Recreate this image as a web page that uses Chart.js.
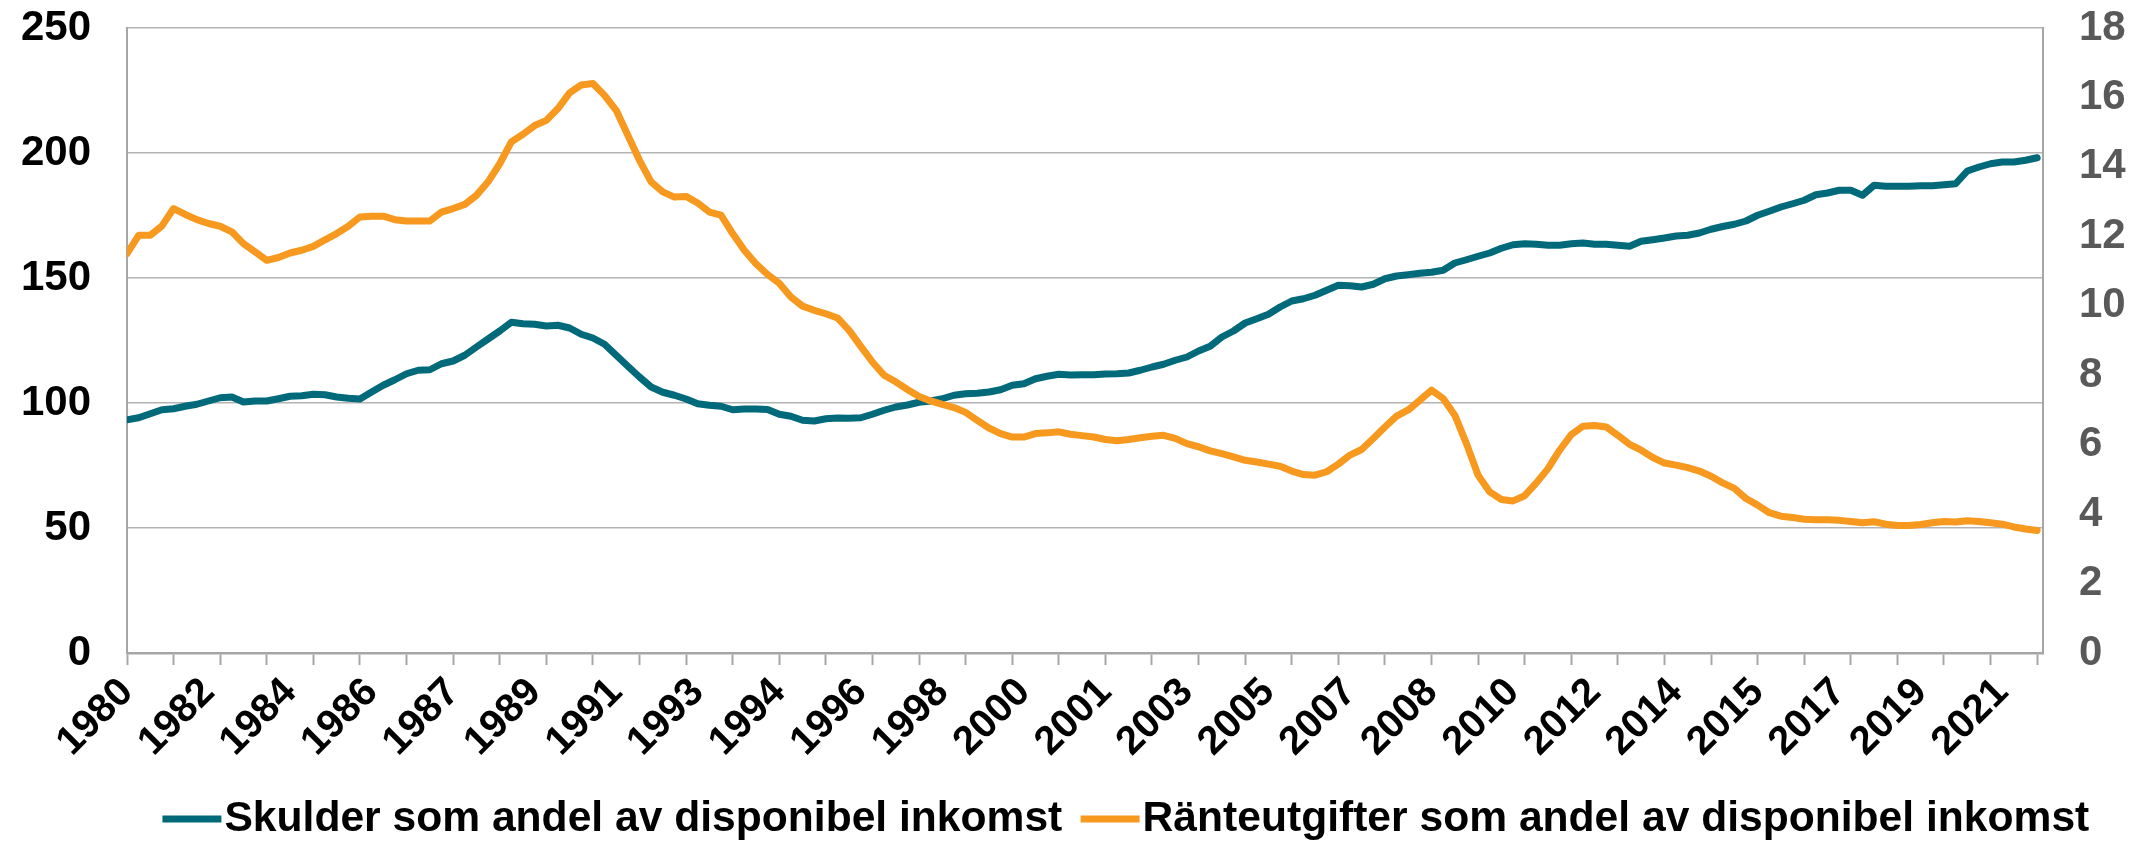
<!DOCTYPE html>
<html>
<head>
<meta charset="utf-8">
<script src="https://cdn.jsdelivr.net/npm/chart.js@4.4.1/dist/chart.umd.min.js"></script>
<style>
html,body{margin:0;padding:0;background:#ffffff;}
canvas{display:block;}
</style>
</head>
<body>
<canvas id="c" width="2150" height="842"></canvas>
<script>
// Quarterly observations, first point = 1980 Q4
const tickLabels = ['1980','1982','1984','1986','1987','1989','1991','1993','1994','1996','1998','2000','2001','2003','2005','2007','2008','2010','2012','2014','2015','2017','2019','2021'];

const skulder = [
93.3,94.1,95.7,97.3,97.7,98.7,99.5,100.8,102.1,102.4,
100.4,100.8,100.8,101.7,102.7,102.9,103.5,103.3,102.4,101.9,
101.6,104.4,107.1,109.3,111.7,113.1,113.3,115.7,116.8,119.1,
122.4,125.6,128.8,132.3,131.7,131.5,130.8,131.1,130.0,127.5,
126.0,123.5,119.1,114.7,110.4,106.4,104.3,103.1,101.6,99.7,
99.1,98.7,97.3,97.6,97.6,97.4,95.5,94.7,93.1,92.8,
93.7,94.0,93.9,94.1,95.5,97.1,98.4,99.2,100.3,100.8,
101.7,103.1,103.7,103.9,104.4,105.3,107.1,107.7,109.7,110.7,
111.5,111.2,111.3,111.3,111.6,111.7,112.0,113.1,114.4,115.5,
117.1,118.4,120.8,122.7,126.4,128.8,132.0,133.7,135.5,138.4,
140.8,141.7,143.1,145.1,147.1,146.9,146.4,147.5,149.7,150.8,
151.3,151.9,152.3,153.1,156.0,157.3,158.7,160.0,161.9,163.3,
163.7,163.5,163.1,163.1,163.7,164.0,163.5,163.5,163.1,162.7,
164.7,165.3,166.0,166.8,167.1,168.0,169.5,170.6,171.5,172.8,
175.1,176.7,178.4,179.7,181.1,183.3,184.0,185.1,185.1,183.1,
187.1,186.7,186.7,186.7,186.9,186.9,187.3,187.7,192.8,194.4,
195.7,196.4,196.4,197.1,198.1
];

const ranteutgifter = [
11.50,12.03,12.03,12.30,12.80,12.63,12.48,12.37,12.29,12.13,
11.79,11.55,11.31,11.39,11.52,11.60,11.71,11.90,12.08,12.29,
12.56,12.58,12.58,12.48,12.44,12.44,12.44,12.70,12.80,12.92,
13.18,13.57,14.09,14.72,14.94,15.19,15.34,15.68,16.13,16.36,
16.40,16.06,15.63,14.91,14.19,13.57,13.28,13.13,13.15,12.96,
12.70,12.61,12.08,11.60,11.21,10.90,10.65,10.25,9.99,9.87,
9.77,9.65,9.29,8.83,8.38,8.00,7.81,7.59,7.39,7.26,
7.16,7.07,6.93,6.70,6.48,6.32,6.22,6.22,6.32,6.34,
6.37,6.30,6.26,6.22,6.15,6.11,6.15,6.20,6.24,6.27,
6.18,6.03,5.94,5.82,5.74,5.65,5.55,5.50,5.44,5.38,
5.24,5.14,5.12,5.22,5.44,5.70,5.86,6.18,6.51,6.82,
7.00,7.28,7.57,7.33,6.85,6.03,5.12,4.64,4.42,4.38,
4.53,4.90,5.31,5.84,6.29,6.53,6.55,6.51,6.27,6.01,
5.84,5.63,5.47,5.41,5.34,5.24,5.09,4.90,4.74,4.45,
4.26,4.04,3.94,3.90,3.85,3.84,3.84,3.82,3.79,3.75,
3.78,3.71,3.67,3.67,3.70,3.75,3.79,3.77,3.81,3.79,
3.75,3.71,3.63,3.57,3.53
];

const categories = skulder.map((_, i) => {
  const k = 3 + i;
  return (1980 + Math.floor(k / 4)) + 'K' + (k % 4 + 1);
});

const TEAL = '#006A7A';
const ORANGE = '#F7981F';
const GRID = '#B3B3B3';
const AXIS = '#A6A6A6';
const CLEAR = 'rgba(0,0,0,0)';
const FONT = '"Liberation Sans", Arial, Helvetica, sans-serif';

const legendShift = {
  id: 'legendShift',
  afterLayout(chart) {
    if (chart.legend) { chart.legend.left += 60; chart.legend.right += 60; }
  }
};

new Chart(document.getElementById('c'), {
  type: 'line',
  plugins: [legendShift],
  data: {
    datasets: [
      {
        label: 'Skulder som andel av disponibel inkomst',
        data: skulder.map((v, i) => ({x: i, y: v})),
        borderColor: TEAL, backgroundColor: TEAL,
        borderWidth: 7, pointRadius: 0, tension: 0,
        borderJoinStyle: 'round', borderCapStyle: 'round',
        yAxisID: 'y', order: 1
      },
      {
        label: 'Ränteutgifter som andel av disponibel inkomst',
        data: ranteutgifter.map((v, i) => ({x: i, y: v})),
        borderColor: ORANGE, backgroundColor: ORANGE,
        borderWidth: 7, pointRadius: 0, tension: 0,
        borderJoinStyle: 'round', borderCapStyle: 'round',
        yAxisID: 'y2', order: 0
      }
    ]
  },
  options: {
    responsive: false,
    animation: false,
    devicePixelRatio: 1,
    layout: { padding: { left: 0, right: 0, top: 28, bottom: -8.2 } },
    plugins: {
      tooltip: { enabled: false },
      legend: {
        position: 'bottom',
        align: 'center',
        labels: {
          usePointStyle: true, pointStyle: 'line',
          boxWidth: 22.4, boxHeight: 41.7, padding: 36.6,
          color: '#000000',
          font: { family: FONT, size: 42.6, weight: 'bold' },
          sort: (a, b) => a.datasetIndex - b.datasetIndex,
          generateLabels: (chart) => chart.data.datasets.map((ds, i) => ({
            text: ds.label, fillStyle: ds.borderColor, strokeStyle: ds.borderColor,
            lineWidth: 7, lineCap: 'butt', pointStyle: 'line', rotation: 0,
            hidden: false, datasetIndex: i, fontColor: '#000000'
          }))
        }
      }
    },
    scales: {
      x: {
        type: 'linear',
        min: 0, max: 164.5,
        afterBuildTicks: (scale) => {
          const t = [];
          for (let v = 0; v <= 164; v++) if (v % 4 === 0 || v % 7 === 0) t.push({value: v});
          scale.ticks = t;
        },
        afterFit: (scale) => { scale.height = 108; },
        grid: {
          drawOnChartArea: false, drawTicks: true, tickLength: 12, tickWidth: 2,
          tickColor: (ctx) => (ctx.tick && ctx.tick.value % 4 === 0) ? AXIS : CLEAR
        },
        border: { display: true, color: AXIS, width: 2.5 },
        ticks: {
          autoSkip: false, minRotation: 45, maxRotation: 45, padding: 4,
          color: '#000000',
          font: { family: FONT, size: 40, weight: 'bold' },
          callback: (value) => (value % 7 === 0 && tickLabels[value / 7] !== undefined) ? tickLabels[value / 7] : ''
        }
      },
      y: {
        position: 'left',
        min: 0, max: 250,
        afterFit: (scale) => { scale.width = 127; },
        grid: { color: GRID, lineWidth: 1.5, drawTicks: true, tickLength: 36, tickColor: CLEAR },
        border: { display: true, color: AXIS, width: 2 },
        ticks: {
          stepSize: 50, padding: 0, color: '#000000',
          font: { family: FONT, size: 42, weight: 'bold' }
        }
      },
      y2: {
        position: 'right',
        min: 0, max: 18,
        afterFit: (scale) => { scale.width = 107; },
        grid: { drawOnChartArea: false, drawTicks: true, tickLength: 36, tickColor: CLEAR },
        border: { display: true, color: AXIS, width: 2 },
        ticks: {
          stepSize: 2, padding: 0, color: '#595959',
          font: { family: FONT, size: 42, weight: 'bold' }
        }
      }
    }
  }
});
</script>
</body>
</html>
